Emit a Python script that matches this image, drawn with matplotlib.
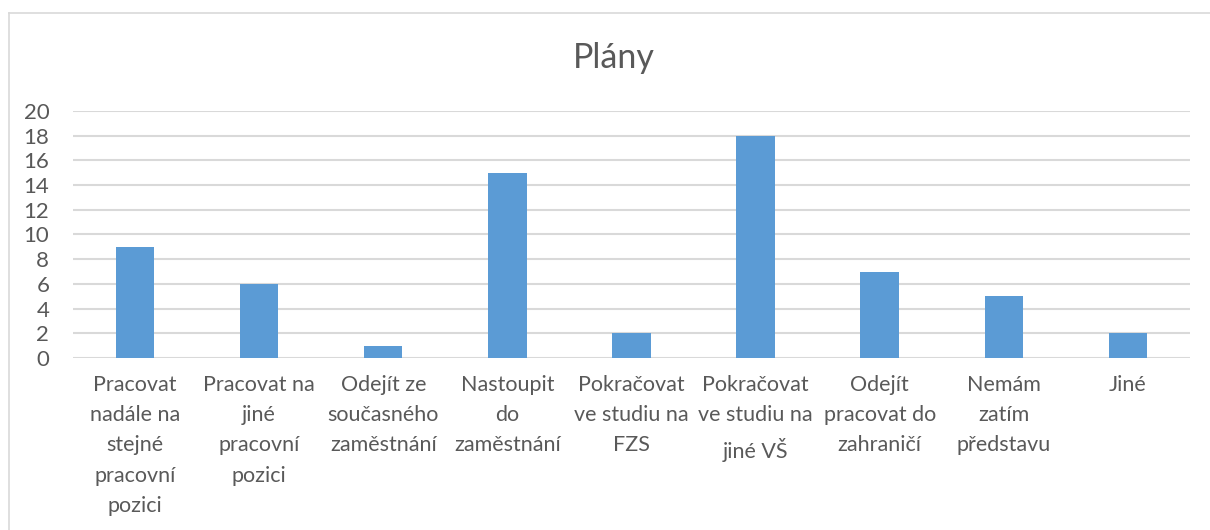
import matplotlib.pyplot as plt
import numpy as np

# data
categories = [
    "Pracovat\nnadále na\nstejné\npracovní\npozici",
    "Pracovat na\njiné\npracovní\npozici",
    "Odejít ze\nsoučasného\nzaměstnání",
    "Nastoupit\ndo\nzaměstnání",
    "Pokračovat\nve studiu na\nFZS",
    "Pokračovat\nve studiu na\njiné VŠ",
    "Odejít\npracovat do\nzahraničí",
    "Nemám\nzatím\npředstavu",
    "Jiné",
]
values = [9, 6, 1, 15, 2, 18, 7, 5, 2]
yticks = list(range(0, 21, 2))

plt.rcParams['font.family'] = ['Lato', 'DejaVu Sans']
text_color = '#595959'
grid_color = '#d9d9d9'

fig = plt.figure(figsize=(12.1, 5.3), dpi=100)
ax = fig.add_axes([0.0603, 0.3245, 0.9232, 0.4661])

x = np.arange(len(categories))
ax.bar(x, values, width=0.31, color='#5b9bd5', zorder=3)

ax.set_xlim(-0.5, len(categories) - 0.5)
ax.set_ylim(0, 20)
ax.set_yticks(yticks)
ax.set_xticks(x)
ax.set_xticklabels(categories, fontsize=15.5, color=text_color, linespacing=1.65)
ax.tick_params(axis='x', length=0, pad=12)
ax.tick_params(axis='y', length=0, pad=17, labelsize=16, labelcolor=text_color)
ax.yaxis.grid(True, color=grid_color, linewidth=1.5, zorder=0)
for s in ax.spines.values():
    s.set_visible(False)

fig.text(0.507, 0.89, "Plány", ha='center', va='center', fontsize=24.5, color=text_color)

# chart frame
fig.add_artist(plt.Line2D([9 / 1210, 9 / 1210], [0, 1 - 13 / 530], transform=fig.transFigure, color=grid_color, lw=1.2))
fig.add_artist(plt.Line2D([9 / 1210, 1], [1 - 13 / 530, 1 - 13 / 530], transform=fig.transFigure, color=grid_color, lw=1.2))

fig.savefig('out.png', dpi=100)
